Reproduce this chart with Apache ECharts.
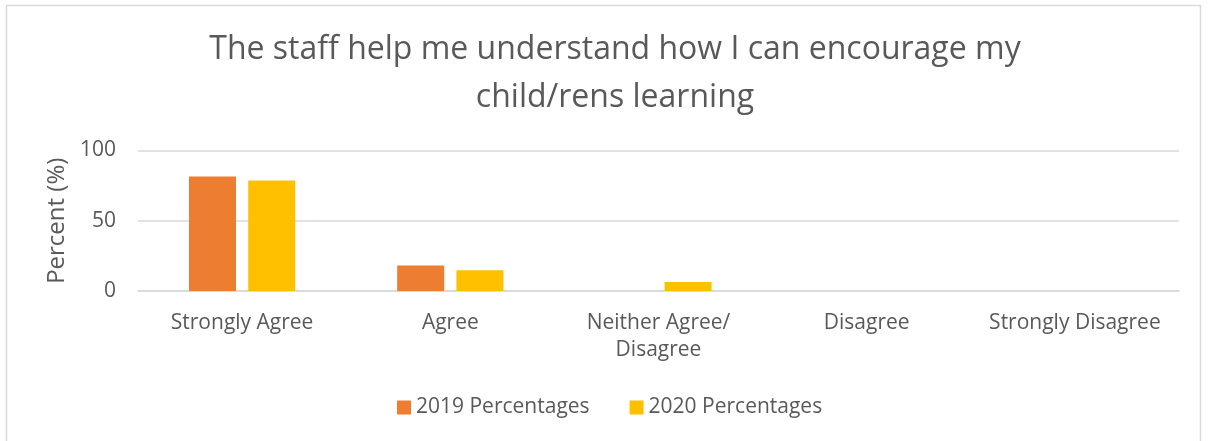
<!DOCTYPE html>
<html>
<head>
<meta charset="utf-8">
<script src="https://cdn.jsdelivr.net/npm/echarts@6/dist/echarts.min.js"></script>
<style>
  html, body { margin: 0; padding: 0; background: #fff; }
  #chart { width: 1209px; height: 441px; }
</style>
</head>
<body>
<div id="chart"></div>
<script>
  // data
  var categories = ['Strongly Agree', 'Agree', 'Neither Agree/\nDisagree', 'Disagree', 'Strongly Disagree'];
  var seriesNames = ['2019 Percentages', '2020 Percentages'];
  var values2019 = [81.5, 18.2, 0, 0, 0];
  var values2020 = [78.6, 14.7, 6.4, 0, 0];
  var yTicks = [0, 50, 100];

  var font = 'Open Sans';
  var textColor = '#595959';

  var chart = echarts.init(document.getElementById('chart'));
  chart.setOption({
    animation: false,
    textStyle: { fontFamily: font, color: textColor },
    title: {
      text: 'The staff help me understand how I can encourage my\nchild/rens learning',
      left: 610,
      textAlign: 'center',
      top: 21,
      textStyle: { fontFamily: font, fontSize: 32, fontWeight: 'normal', color: textColor, lineHeight: 48 }
    },
    legend: {
      data: seriesNames,
      bottom: 18,
      left: 392,
      itemWidth: 14,
      itemHeight: 14,
      itemGap: 40,
      icon: 'rect',
      textStyle: { fontFamily: font, fontSize: 21, color: textColor }
    },
    grid: { left: 138, right: 30, top: 150.5, bottom: 150 },
    xAxis: {
      type: 'category',
      data: categories,
      axisLine: { show: true, lineStyle: { color: '#d9d9d9', width: 1.5 } },
      axisTick: { show: false },
      axisLabel: {
        interval: 0,
        hideOverlap: false,
        fontFamily: font, fontSize: 21, color: textColor, margin: 19, lineHeight: 27
      }
    },
    yAxis: {
      type: 'value',
      min: yTicks[0],
      max: yTicks[yTicks.length - 1],
      interval: yTicks[1] - yTicks[0],
      name: 'Percent (%)',
      nameLocation: 'middle',
      nameGap: 68,
      nameTextStyle: { fontFamily: font, fontSize: 24, color: textColor },
      axisLine: { show: false },
      axisTick: { show: false },
      axisLabel: { fontFamily: font, fontSize: 21, color: textColor, margin: 22 },
      splitLine: { lineStyle: { color: '#d9d9d9', width: 1.5 } }
    },
    series: [
      {
        name: seriesNames[0],
        type: 'bar',
        data: values2019,
        itemStyle: { color: '#ED7D31' },
        barWidth: 47,
        barGap: '26%'
      },
      {
        name: seriesNames[1],
        type: 'bar',
        data: values2020,
        itemStyle: { color: '#FFC000' },
        barWidth: 47,
        barGap: '26%'
      }
    ],
    graphic: [
      {
        type: 'polyline',
        shape: { points: [[6.5, 445], [6.5, 5.5], [1200.5, 5.5], [1200.5, 445]] },
        style: { stroke: '#d9d9d9', lineWidth: 1.5, fill: null },
        silent: true
      }
    ]
  });
</script>
</body>
</html>
